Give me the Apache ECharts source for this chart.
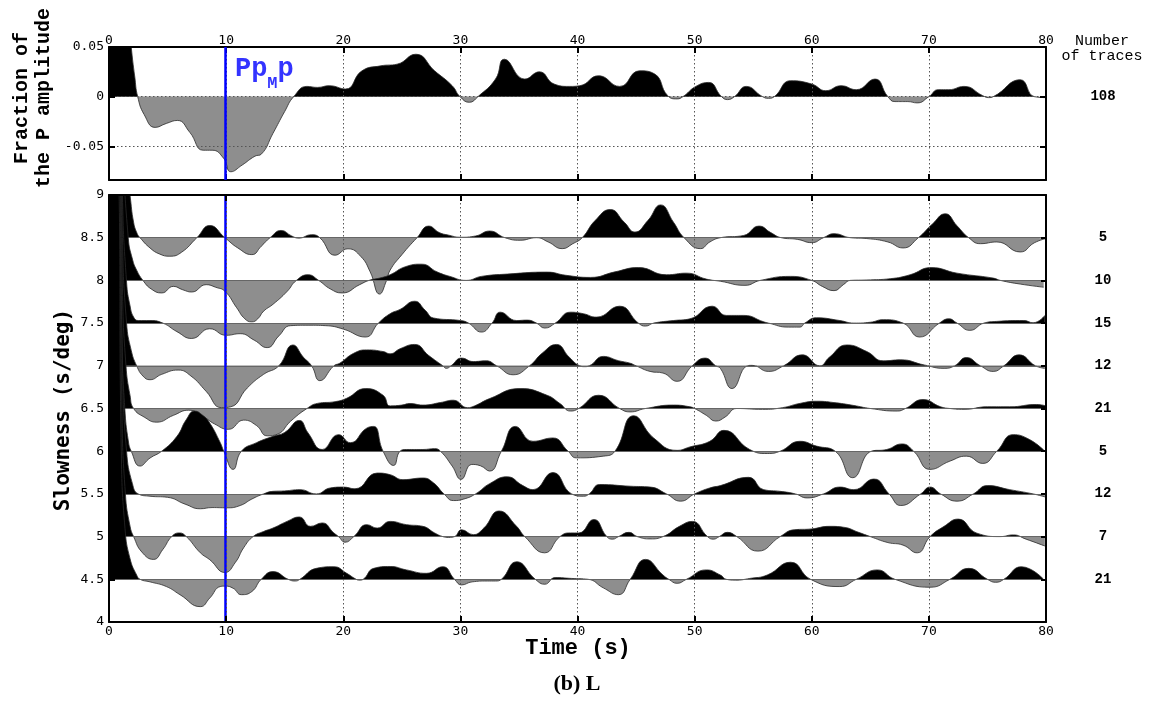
<!DOCTYPE html>
<html><head><meta charset="utf-8">
<script src="https://cdn.jsdelivr.net/npm/echarts@6/dist/echarts.min.js"></script>
<style>html,body{margin:0;padding:0;background:#fff}#c{width:1154px;height:704px}</style>
</head><body><div id="c"></div>
<script>
// ---------------- data ----------------
const TIME_MIN = 0, TIME_MAX = 80, TIME_STEP = 10;
const SLOWNESS = [8.5, 8, 7.5, 7, 6.5, 6, 5.5, 5, 4.5];
const TRACE_COUNTS = [5, 10, 15, 12, 21, 5, 12, 7, 21];
const STACK_COUNT = 108;
const STACK_TICKS = [-0.05, 0, 0.05];
const PPMP_TIME = 9.9;
const PPMP_LABEL_Y = 0.023;

// stacked trace: [time (s), fraction of P amplitude]
const STACK = [[0,0.3],[1.0,0.2],[1.6,0.09],[1.9,0.05],[2.2,0.02],[2.45,0],[3.0,-0.018],[3.94,-0.031],[4.9,-0.027],[5.84,-0.024],[6.9,-0.036],[8.04,-0.054],[8.8,-0.054],[9.78,-0.062],[10.4,-0.0757],[11.36,-0.069],[12.46,-0.06],[13.0,-0.058],[14.0,-0.037],[15.0,-0.015],[15.77,0],[16.9,0.0103],[17.8,0.0093],[18.8,0.011],[20.2,0.0077],[21.6,0.026],[23.2,0.031],[24.6,0.0327],[26.2,0.0427],[27.8,0.026],[29.3,0.011],[29.97,0],[30.76,-0.0057],[31.5,0],[33,0.0177],[33.75,0.0377],[35.5,0.0177],[36.75,0.025],[38,0.0127],[39.3,0.0103],[40.2,0.011],[41.8,0.021],[43.6,0.0103],[45.3,0.026],[46.6,0.0227],[47.7,0.001],[48.5,-0.0023],[49.0,0],[50.1,0.0103],[51.2,0.0143],[52.3,0],[52.8,-0.003],[53.4,0],[54.4,0.0103],[55.8,0],[56.3,-0.0017],[56.8,0],[58.2,0.016],[60.0,0.0127],[61.2,0.006],[62.5,0.011],[63.8,0.007],[65.4,0.0177],[66.5,0],[67.1,-0.005],[68.2,-0.005],[69.0,-0.0063],[70.0,0],[70.8,0.007],[71.7,0.007],[73.0,0.0103],[74.6,0.001],[75.1,-0.001],[75.5,0],[77.8,0.017],[79.0,0],[80,-0.001]];

// slowness traces: [time (s), amplitude relative to the trace's slowness]
const TRACE_85 = [[0,6],[0.9,5],[1.2,1.5],[1.5,0.8],[1.8,0.49],[2.1,0.18],[2.4,0.05],[2.65,0],[3.5,-0.12],[4.3,-0.19],[5.2,-0.217],[6.2,-0.17],[7.5,0],[8.6,0.143],[9.9,0],[11.0,-0.12],[12.2,-0.198],[13.0,-0.1],[13.75,0],[14.7,0.085],[15.6,0.02],[16.2,-0.005],[17.3,0.035],[18.0,0],[19.3,-0.205],[20.4,-0.13],[21.5,-0.22],[22.3,-0.4],[23.1,-0.66],[23.7,-0.5],[24.0,-0.38],[25.0,-0.2],[26.3,0],[27.3,0.136],[28.2,0.06],[29.0,0.03],[30.0,0.005],[31.3,0.02],[32.5,0.078],[33.8,0],[35.1,-0.03],[36.5,0],[37.5,-0.05],[38.7,-0.128],[39.6,-0.07],[40.4,0],[41.5,0.2],[42.8,0.33],[44.0,0.18],[44.9,0.066],[46.0,0.2],[47.1,0.384],[48.2,0.18],[49.1,0],[50.5,-0.128],[51.3,-0.05],[52.2,0],[54.2,0.027],[55.5,0.136],[56.5,0.06],[57.4,0],[58.8,-0.02],[60.0,-0.058],[61.0,0],[61.9,0.047],[63.3,0],[64.7,-0.01],[66.5,-0.05],[67.8,-0.12],[69.1,0],[70.3,0.16],[71.4,0.28],[72.4,0.14],[73.4,0],[74.4,-0.07],[75.8,-0.05],[77.8,-0.167],[79.0,-0.06],[80,-0.01]];
const TRACE_80 = [[0,6],[0.9,5],[1.25,1.5],[1.65,0.49],[2.0,0.25],[2.36,0.12],[2.9,0],[3.6,-0.1],[4.5,-0.147],[5.5,-0.07],[6.3,-0.11],[7.06,-0.136],[8.3,-0.05],[9.1,-0.08],[9.9,-0.128],[10.9,-0.32],[11.6,-0.45],[12.2,-0.485],[12.7,-0.45],[13.2,-0.36],[14.0,-0.28],[15.2,-0.13],[16.0,0],[17.0,0.066],[17.9,0],[18.9,-0.1],[19.9,-0.147],[21.4,-0.05],[22.2,0],[23.2,0.03],[24.0,0.066],[25.3,0.16],[26.7,0.19],[28.0,0.1],[29.1,0.047],[30.5,0],[31.8,0.047],[34.0,0.074],[37.4,0.097],[39.0,0.06],[41.1,0.035],[43.2,0.1],[45.2,0.15],[47.6,0.066],[49.3,0.085],[51.0,0.015],[52.2,-0.01],[54.3,-0.058],[55.6,0],[58.2,0.047],[60.0,0],[60.9,-0.07],[61.9,-0.12],[62.7,-0.05],[63.3,0],[64.7,0.005],[66.7,0.02],[68.4,0.066],[70.2,0.15],[72.4,0.085],[75.5,0.027],[76.1,0],[77.8,-0.043],[79.8,-0.08]];
const TRACE_75 = [[0,6],[0.85,5],[1.15,1.5],[1.5,0.48],[1.8,0.2],[2.1,0.07],[2.5,0.03],[3.5,0.03],[4.6,0],[5.8,-0.1],[7.06,-0.18],[8.6,-0.066],[10.0,-0.143],[11.2,-0.124],[12.4,-0.2],[13.5,-0.287],[14.5,-0.15],[15.5,-0.03],[17.0,-0.025],[18.5,-0.03],[20.0,-0.07],[21.9,-0.163],[23.0,0],[24.0,0.11],[24.85,0.16],[26.1,0.256],[27.0,0.15],[27.7,0.06],[30.0,0.03],[30.7,0],[31.8,-0.105],[32.7,0],[33.4,0.128],[34.8,0.03],[35.7,0.035],[36.5,0],[37.2,-0.058],[38.1,0],[39.4,0.128],[40.5,0.11],[41.6,0.07],[43.6,0.198],[45.2,0],[45.8,-0.035],[46.5,0],[48.2,0.03],[49.6,0.05],[51.5,0.198],[52.7,0.09],[54.2,0.09],[55.9,0.015],[56.3,0],[58.0,-0.047],[59.0,-0.047],[59.4,0],[60.4,0.062],[62.4,0.03],[63.6,0],[65.0,0.01],[66.1,0.04],[67.8,0],[69.2,-0.163],[70.9,0],[71.7,0.05],[72.4,0],[73.5,-0.085],[74.7,0],[75.8,0.02],[78.1,0.03],[78.9,0.004],[79.9,0.09]];
const TRACE_70 = [[0,6],[0.85,5],[1.15,1.5],[1.5,0.5],[1.9,0.18],[2.36,0],[2.9,-0.12],[3.5,-0.163],[4.5,-0.1],[5.9,-0.05],[7.0,-0.12],[8.3,-0.3],[9.6,-0.49],[10.4,-0.48],[11.8,-0.26],[13.2,-0.1],[14.5,0],[15.7,0.244],[16.6,0.1],[17.3,0],[18.0,-0.174],[19.2,0],[19.7,0.03],[20.9,0.147],[22.0,0.186],[23.4,0.167],[24.0,0.14],[24.85,0.2],[26.1,0.25],[27.3,0.12],[28.5,0],[28.8,-0.03],[29.2,0],[30.1,0.09],[31.1,0.05],[32.2,0.058],[33.1,0],[34.5,-0.105],[35.9,0],[37.0,0.15],[38.2,0.25],[39.3,0.1],[40.2,0],[40.6,-0.01],[41.0,0],[42.2,0.11],[43.5,0.06],[44.5,0.03],[45.0,0],[46.2,-0.066],[47.3,-0.085],[48.5,-0.182],[49.8,0],[50.9,0.09],[51.8,0],[52.2,-0.03],[53.2,-0.267],[54.5,0],[54.9,0.005],[56.3,-0.066],[57.6,0],[59.2,0.128],[60.7,0],[61.5,0.1],[63.0,0.244],[64.7,0.167],[66.1,0.058],[67.6,0.07],[69.6,0.01],[71.3,-0.03],[72.2,0],[73.2,0.097],[74.4,0],[75.5,-0.066],[76.4,0],[77.7,0.128],[79.1,0],[79.9,-0.03]];
const TRACE_65 = [[0,6],[0.85,5],[1.15,1.4],[1.45,0.5],[1.8,0.15],[2.1,0],[3.0,-0.1],[4.07,-0.16],[5.5,-0.08],[6.8,-0.02],[8.0,-0.09],[9.0,-0.18],[10.2,-0.244],[11.5,-0.136],[12.6,-0.2],[13.5,-0.32],[14.4,-0.3],[15.5,-0.15],[16.9,0],[17.8,0.06],[19.3,0.08],[20.3,0.12],[21.9,0.233],[23.4,0.155],[24.0,0.03],[25.0,0.04],[25.7,0.058],[26.8,0.04],[28.3,0.07],[29.4,0.097],[30.6,0.01],[31.2,0.03],[32.5,0.116],[35.1,0.233],[37.4,0.155],[38.5,0.058],[39.4,-0.03],[40.1,0],[41.8,0.155],[43.6,0],[44.5,-0.04],[45.8,0],[48.2,0.04],[49.6,0.02],[50.0,0],[51.0,-0.08],[51.8,-0.147],[52.6,-0.1],[53.6,0],[55.8,-0.01],[57.5,0.01],[59.0,0.06],[60.4,0.085],[62.1,0.066],[63.6,0.035],[65.0,0],[67.3,-0.03],[68.0,0],[69.5,0.105],[71.0,0.02],[71.8,0],[73.0,-0.01],[75.0,0.02],[76.9,0.02],[79.2,0.047],[80,0.03]];
const TRACE_60 = [[0,6],[0.8,5],[1.1,1.3],[1.35,0.5],[1.65,0.12],[1.9,0],[2.65,-0.174],[3.5,-0.08],[4.5,0],[5.8,0.174],[6.6,0.37],[7.3,0.47],[8.0,0.42],[8.6,0.33],[9.5,0.1],[9.8,0],[10.6,-0.213],[11.3,0],[12.6,0.1],[14.0,0.174],[15.0,0.22],[16.25,0.36],[17.0,0.213],[18.2,0.02],[19.6,0.194],[20.6,0.1],[22.0,0.27],[22.6,0.29],[23.4,0],[24.3,-0.167],[24.85,0],[25.4,0.02],[26.8,0.02],[27.8,0.03],[28.3,0],[29.3,-0.174],[30.06,-0.33],[30.97,-0.155],[31.7,-0.17],[32.5,-0.233],[33.5,0],[34.7,0.29],[36.2,0.116],[37.9,0.155],[39.2,0],[39.9,-0.078],[42.2,-0.058],[43.2,0],[44.8,0.415],[46.5,0.155],[48.5,0.01],[49.6,0.05],[51.3,0.116],[52.5,0.244],[54.7,0.02],[56.2,-0.027],[57.3,0],[59.0,0.116],[60.4,0.06],[62.0,0],[63.5,-0.31],[65.1,0],[66.4,0.02],[67.7,0.085],[68.7,0],[70.1,-0.213],[71.8,-0.116],[73.2,-0.058],[74.6,-0.143],[75.8,0],[77.2,0.194],[78.6,0.136],[79.9,0]];
const TRACE_55 = [[0,6],[0.85,5],[1.15,1.5],[1.5,0.5],[2.0,0.12],[2.5,0],[3.5,-0.027],[5.0,-0.04],[6.5,-0.12],[7.8,-0.174],[8.8,-0.16],[10.05,-0.163],[11.2,-0.136],[12.2,-0.06],[13.2,0],[14.0,0.03],[15.0,0.035],[16.3,0.05],[17.7,0],[18.9,0.07],[20.0,0.08],[21.0,0.06],[22.9,0.244],[24.0,0.225],[25.1,0.167],[26.8,0.186],[27.7,0.13],[28.6,0],[29.4,-0.078],[30.3,-0.06],[31.3,0],[32.5,0.12],[34.0,0.2],[35.3,0.1],[36.2,0.05],[37.9,0.25],[39.5,0],[40.5,-0.027],[41.0,0],[41.9,0.11],[44.5,0.09],[46.2,0.08],[47.6,0],[48.8,-0.085],[50.0,0],[51.3,0.07],[52.2,0.097],[54.6,0.194],[55.9,0.05],[57.3,0.03],[58.6,0],[59.6,-0.047],[61.0,0],[62.4,0.08],[63.6,0.05],[65.3,0.174],[66.6,0],[67.6,-0.136],[69.3,0],[70.1,0.08],[71.0,0],[72.4,-0.085],[73.8,0],[75.0,0.097],[76.9,0.05],[78.9,0],[79.9,-0.035]];
const TRACE_50 = [[0,6],[0.85,5],[1.1,1.5],[1.4,0.5],[1.8,0.12],[2.1,0],[2.8,-0.18],[3.8,-0.267],[4.6,-0.15],[5.35,0],[6.0,0.043],[6.6,0],[7.8,-0.19],[8.6,-0.27],[9.9,-0.42],[10.8,-0.3],[11.5,-0.13],[12.3,0],[13.2,0.06],[14.0,0.1],[15.2,0.178],[16.25,0.23],[17.2,0.12],[18.2,0.16],[19.2,0.043],[19.6,0],[20.15,-0.066],[20.9,0],[22.0,0.14],[22.9,0.1],[24.0,0.178],[25.4,0.14],[26.8,0.12],[27.8,0.043],[28.5,0],[29.0,-0.01],[29.5,0],[30.1,0.08],[31.1,0.023],[32.0,0.1],[33.3,0.3],[34.8,0.12],[35.5,0],[37.2,-0.19],[38.5,0],[39.4,0.043],[40.1,0.043],[41.4,0.2],[42.5,0],[43.0,-0.03],[43.5,0],[44.4,0.05],[45.1,0],[46.2,-0.027],[47.3,0],[48.7,0.12],[49.8,0.178],[51.1,0],[51.6,-0.03],[52.1,0],[52.8,0.05],[53.6,0],[55.4,-0.17],[57.3,0],[58.5,0.08],[60.0,0.09],[61.5,0.12],[62.7,0.11],[64.0,0.05],[65.0,0],[66.5,-0.07],[67.8,-0.1],[69.0,-0.19],[70.1,0],[71.3,0.12],[72.5,0.205],[74.1,0.04],[76.1,0],[77.2,0.02],[78.3,-0.03],[79.9,-0.11]];
const TRACE_45 = [[0,6],[0.8,5],[1.05,1.5],[1.37,0.59],[1.8,0.24],[2.36,0.05],[2.65,0],[3.5,-0.03],[4.9,-0.085],[6.06,-0.18],[7.8,-0.32],[8.6,-0.22],[9.5,-0.085],[9.9,-0.08],[10.6,-0.105],[11.3,-0.18],[12.2,-0.143],[13.0,0],[14.0,0.09],[15.3,0],[15.9,-0.02],[16.3,0],[17.7,0.128],[19.2,0.147],[20.3,0.07],[21.1,0],[21.4,-0.01],[21.7,0],[22.6,0.128],[24.0,0.15],[25.4,0.11],[27.1,0.07],[28.5,0.147],[29.5,0],[30.1,-0.066],[31.0,-0.03],[32.3,-0.02],[33.0,-0.02],[33.5,0],[34.8,0.205],[36.4,0],[37.2,-0.058],[38.1,0.02],[39.5,0.01],[40.9,0],[42.2,-0.1],[43.5,-0.18],[44.5,0],[45.8,0.233],[47.3,0.05],[47.8,0],[48.5,-0.047],[49.3,0],[51.0,0.11],[52.2,0.05],[52.7,0],[53.5,-0.01],[54.7,0.01],[56.2,0.05],[58.2,0.2],[59.9,0],[62.4,-0.085],[63.8,0],[65.6,0.11],[67.1,0],[70.1,-0.093],[71.8,0],[73.4,0.128],[75.0,0],[75.7,-0.035],[76.4,0],[77.9,0.147],[79.8,0]];
const TRACES = [TRACE_85, TRACE_80, TRACE_75, TRACE_70, TRACE_65, TRACE_60, TRACE_55, TRACE_50, TRACE_45];

// ---------------- styles ----------------
const GRAY = '#8e8e8e';
const TICK_FONT = "'DejaVu Sans Mono', monospace";
const COURIER = "'Liberation Mono', 'DejaVu Sans Mono', monospace";
const TOP_MIN = -0.084, TOP_MAX = 0.05;
const BOT_MIN = 4, BOT_MAX = 9, BOT_STEP = 0.5;
const SMOOTH = 0.5;

function frameAxis(o) {
  const base = {
    type: 'value', z: 60,
    axisLine: { show: true, onZero: false, lineStyle: { color: '#000', width: 2 } },
    axisTick: { show: true, inside: true, length: 6, lineStyle: { color: '#000', width: 2 } },
    axisLabel: { show: false },
    splitLine: { show: false }
  };
  return Object.assign(base, o);
}
const labelStyle = { show: true, color: '#000', fontFamily: TICK_FONT, fontSize: 13 };
const dotted = { show: true, lineStyle: { type: [1.5, 2.5], color: '#555', width: 1 } };

const xAxis = [
  frameAxis({ gridIndex: 0, position: 'top', min: TIME_MIN, max: TIME_MAX, interval: TIME_STEP,
    axisLabel: Object.assign({ margin: 0 }, labelStyle), splitLine: dotted }),
  frameAxis({ gridIndex: 0, position: 'bottom', min: TIME_MIN, max: TIME_MAX, interval: TIME_STEP }),
  frameAxis({ gridIndex: 1, position: 'bottom', min: TIME_MIN, max: TIME_MAX, interval: TIME_STEP,
    axisLabel: Object.assign({ margin: 3 }, labelStyle), splitLine: dotted }),
  frameAxis({ gridIndex: 1, position: 'top', min: TIME_MIN, max: TIME_MAX, interval: TIME_STEP })
];
const yAxis = [
  frameAxis({ gridIndex: 0, position: 'left', min: TOP_MIN, max: TOP_MAX,
    axisLabel: Object.assign({ margin: 5, customValues: STACK_TICKS }, labelStyle),
    axisTick: { show: true, inside: true, length: 6, customValues: STACK_TICKS, lineStyle: { color: '#000', width: 2 } },
    splitLine: dotted }),
  frameAxis({ gridIndex: 0, position: 'right', min: TOP_MIN, max: TOP_MAX,
    axisLabel: { show: true, customValues: [0], margin: 57, align: 'center', color: '#000',
      fontFamily: COURIER, fontSize: 14, fontWeight: 'bold',
      formatter: v => (Math.abs(v) < 1e-9 ? String(STACK_COUNT) : '') },
    axisTick: { show: true, inside: true, length: 6, customValues: STACK_TICKS, lineStyle: { color: '#000', width: 2 } } }),
  frameAxis({ gridIndex: 1, position: 'left', min: BOT_MIN, max: BOT_MAX, interval: BOT_STEP,
    axisLabel: Object.assign({ margin: 5 }, labelStyle) }),
  frameAxis({ gridIndex: 1, position: 'right', min: BOT_MIN, max: BOT_MAX, interval: BOT_STEP,
    axisTick: { show: true, inside: true, length: 5, lineStyle: { color: '#000', width: 2 } },
    axisLabel: { show: true, margin: 57, align: 'center', color: '#000', fontFamily: COURIER, fontSize: 14, fontWeight: 'bold',
      formatter: v => { const i = SLOWNESS.findIndex(s => Math.abs(s - v) < 1e-6); return i >= 0 ? String(TRACE_COUNTS[i]) : ''; } } })
];

const series = [];

// stacked trace (top panel)
series.push({
  type: 'line', xAxisIndex: 0, yAxisIndex: 0, data: STACK,
  symbol: 'none', showSymbol: false, smooth: SMOOTH, clip: true,
  lineStyle: { color: '#2a2a2a', width: 0.8 },
  areaStyle: { opacity: 1, origin: 0, color: '#000' },
  z: 10,
  markLine: { silent: true, symbol: ['none', 'none'], z: 70, label: { show: false }, animation: false,
    lineStyle: { color: '#0000ff', width: 2.5, type: 'solid' },
    data: [{ xAxis: PPMP_TIME }] },
  animation: false
});

TRACES.forEach((tr, i) => {
  const base = SLOWNESS[i];
  const last = i === TRACES.length - 1;
  const mlData = [{ yAxis: base }];
  if (last) mlData.push({ xAxis: PPMP_TIME, lineStyle: { color: '#0000ff', width: 2.5, type: 'solid' } });
  series.push({
    type: 'line', xAxisIndex: 2, yAxisIndex: 2,
    data: tr.map(p => [p[0], base + p[1]]),
    symbol: 'none', showSymbol: false, smooth: SMOOTH, clip: true,
    lineStyle: { color: '#2a2a2a', width: 0.8 },
    areaStyle: { opacity: 1, origin: base, color: '#000' },
    z: 12 + 2 * i,
    markLine: { silent: true, symbol: ['none', 'none'], z: 13 + 2 * i, label: { show: false }, animation: false,
      lineStyle: { color: '#666', width: 1.2, type: 'solid' }, data: mlData },
    animation: false
  });
});

// PpMp label
series.push({
  type: 'scatter', xAxisIndex: 0, yAxisIndex: 0, data: [[PPMP_TIME, PPMP_LABEL_Y]],
  symbolSize: 0, z: 90, silent: true, animation: false,
  label: { show: true, position: 'right', distance: 10,
    formatter: '{n|Pp}{s|M}{n|p}',
    rich: {
      n: { fontFamily: COURIER, fontWeight: 'bold', fontSize: 27, color: '#0000ff', lineHeight: 36, verticalAlign: 'top' },
      s: { fontFamily: COURIER, fontWeight: 'bold', fontSize: 17, color: '#0000ff', lineHeight: 36, verticalAlign: 'bottom' }
    } }
});

const txt = (text, x, y, font, rot) => ({ type: 'text', x, y, rotation: rot || 0, z: 100,
  style: { text, x: 0, y: 0, align: 'center', verticalAlign: 'middle', font, fill: '#000' } });

const option = {
  animation: false,
  backgroundColor: '#fff',
  grid: [
    { left: 109, top: 47, width: 937, height: 133 },
    { left: 109, top: 195, width: 937, height: 427 }
  ],
  xAxis, yAxis, series,
  graphic: [
    txt('Fraction of', 22, 98, "bold 20px 'Liberation Mono'", Math.PI / 2),
    txt('the P amplitude', 44, 98, "bold 20px 'Liberation Mono'", Math.PI / 2),
    txt('Slowness (s/deg)', 64, 410, "bold 21px 'DejaVu Sans Mono'", Math.PI / 2),
    txt('Time (s)', 578, 648, "bold 22px 'Liberation Mono'"),
    txt('Number', 1102, 41, "15px 'Liberation Mono'"),
    txt('of traces', 1102, 56, "15px 'Liberation Mono'"),
    txt('(b) L', 577, 684, "bold 22px 'Liberation Serif'")
  ]
};
const chart = echarts.init(document.getElementById('c'), null, { renderer: 'canvas' });
chart.setOption(option);

// Two-tone fill: black above each trace's baseline, gray below, split at the baseline pixel given by the axis scale.
function splitFill(yAxisIndex, base) {
  const py = chart.convertToPixel({ yAxisIndex: yAxisIndex }, base);
  return new echarts.graphic.LinearGradient(0, py - 0.5, 0, py + 0.5,
    [{ offset: 0, color: '#000' }, { offset: 0.5, color: '#000' }, { offset: 0.5, color: GRAY }, { offset: 1, color: GRAY }], true);
}
const fillUpdate = [{ areaStyle: { color: splitFill(0, 0) } }];
SLOWNESS.forEach(b => fillUpdate.push({ areaStyle: { color: splitFill(2, b) } }));
chart.setOption({ series: fillUpdate });
</script></body></html>
